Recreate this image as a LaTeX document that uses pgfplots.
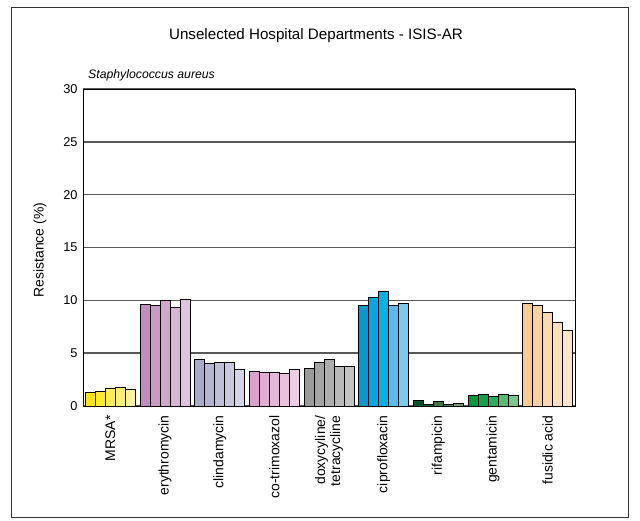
\documentclass[border=0pt]{standalone}
\usepackage{pgfplots}
\pgfplotsset{compat=1.18}
\usepackage{fontspec}
\setmainfont{Liberation Sans}
% colours
\definecolor{a1}{HTML}{FFE500}\definecolor{a2}{HTML}{FFE838}\definecolor{a3}{HTML}{FFEB5C}\definecolor{a4}{HTML}{FFEE7E}\definecolor{a5}{HTML}{FFF29E}
\definecolor{b1}{HTML}{C38CBE}\definecolor{b2}{HTML}{CA9AC5}\definecolor{b3}{HTML}{D0A8CC}\definecolor{b4}{HTML}{D7B6D4}\definecolor{b5}{HTML}{DEC4DC}
\definecolor{c1}{HTML}{AAAACA}\definecolor{c2}{HTML}{B5B5D1}\definecolor{c3}{HTML}{BFBFD7}\definecolor{c4}{HTML}{C9C9DE}\definecolor{c5}{HTML}{D4D4E5}
\definecolor{d1}{HTML}{DBA0CB}\definecolor{d2}{HTML}{E0ACD2}\definecolor{d3}{HTML}{E4B8D8}\definecolor{d4}{HTML}{E8C3DE}\definecolor{d5}{HTML}{EDCFE5}
\definecolor{e1}{HTML}{9B9B9B}\definecolor{e2}{HTML}{A5A5A5}\definecolor{e3}{HTML}{AFAFAF}\definecolor{e4}{HTML}{B9B9B9}\definecolor{e5}{HTML}{C3C3C3}
\definecolor{f1}{HTML}{009AD8}\definecolor{f2}{HTML}{00A8E0}\definecolor{f3}{HTML}{00B3E6}\definecolor{f4}{HTML}{56BCE9}\definecolor{f5}{HTML}{78CBEF}
\definecolor{g1}{HTML}{00512A}\definecolor{g2}{HTML}{1F6338}\definecolor{g3}{HTML}{3E7548}\definecolor{g4}{HTML}{5C865C}\definecolor{g5}{HTML}{7A9A72}
\definecolor{h1}{HTML}{009A3E}\definecolor{h2}{HTML}{0FA34A}\definecolor{h3}{HTML}{2DAC5A}\definecolor{h4}{HTML}{59B873}\definecolor{h5}{HTML}{7CC58B}
\definecolor{i1}{HTML}{FDCB8E}\definecolor{i2}{HTML}{FDD29D}\definecolor{i3}{HTML}{FDD8AD}\definecolor{i4}{HTML}{FEDEBC}\definecolor{i5}{HTML}{FEE4CA}
% one bar: colour, shift, x, y
\newcommand{\bb}[4]{\addplot[ybar, bar width=0.183, bar shift=#2, fill=#1, draw=black, line width=0.6bp, forget plot] coordinates {(#3,#4)};}
\begin{document}
\begin{tikzpicture}[x=1bp,y=1bp]
\useasboundingbox (0,0) rectangle (640,521);
\draw[line width=0.8bp, black!80] (11,4) rectangle (628,514);
\node[font=\fontsize{15.2}{18}\selectfont] at (316,485) {Unselected Hospital Departments - ISIS-AR};
\node[anchor=west, font=\fontsize{12.3}{14}\selectfont\itshape, inner sep=0pt] at (88,446) {Staphylococcus aureus};
\node[rotate=90, font=\fontsize{14}{16}\selectfont] at (40,271) {Resistance (\%)};
\begin{axis}[
  at={(83bp,115bp)}, anchor=south west,
  scale only axis, width=492bp, height=317bp,
  xmin=-0.5, xmax=8.5, ymin=0, ymax=30,
  ytick={0,5,...,30},
  xtick={0,1,...,8},
  xticklabels={MRSA*, erythromycin, clindamycin, co-trimoxazol, {doxycyline/\\tetracycline}, ciprofloxacin, rifampicin, gentamicin, fusidic acid},
  xticklabel style={yshift=-6bp, rotate=90, anchor=east, align=right, font=\fontsize{14}{15}\selectfont},
  yticklabel style={font=\fontsize{12.8}{14}\selectfont, xshift=-2bp},
  /pgf/number format/assume math mode=true,
  major tick length=0pt,
  ymajorgrids, grid style={line width=1.5bp, black!65},
  axis line style={line width=0.9bp, black},
]
\bb{a1}{-0.366}{0}{1.3}\bb{a2}{-0.183}{0}{1.4}\bb{a3}{0}{0}{1.7}\bb{a4}{0.183}{0}{1.8}\bb{a5}{0.366}{0}{1.6}
\bb{b1}{-0.366}{1}{9.6}\bb{b2}{-0.183}{1}{9.5}\bb{b3}{0}{1}{10.0}\bb{b4}{0.183}{1}{9.3}\bb{b5}{0.366}{1}{10.1}
\bb{c1}{-0.366}{2}{4.4}\bb{c2}{-0.183}{2}{4.0}\bb{c3}{0}{2}{4.1}\bb{c4}{0.183}{2}{4.1}\bb{c5}{0.366}{2}{3.5}
\bb{d1}{-0.366}{3}{3.3}\bb{d2}{-0.183}{3}{3.2}\bb{d3}{0}{3}{3.2}\bb{d4}{0.183}{3}{3.1}\bb{d5}{0.366}{3}{3.5}
\bb{e1}{-0.366}{4}{3.6}\bb{e2}{-0.183}{4}{4.1}\bb{e3}{0}{4}{4.4}\bb{e4}{0.183}{4}{3.8}\bb{e5}{0.366}{4}{3.8}
\bb{f1}{-0.366}{5}{9.5}\bb{f2}{-0.183}{5}{10.3}\bb{f3}{0}{5}{10.9}\bb{f4}{0.183}{5}{9.5}\bb{f5}{0.366}{5}{9.7}
\bb{g1}{-0.366}{6}{0.5}\bb{g2}{-0.183}{6}{0.2}\bb{g3}{0}{6}{0.4}\bb{g4}{0.183}{6}{0.2}\bb{g5}{0.366}{6}{0.3}
\bb{h1}{-0.366}{7}{1.0}\bb{h2}{-0.183}{7}{1.1}\bb{h3}{0}{7}{0.9}\bb{h4}{0.183}{7}{1.1}\bb{h5}{0.366}{7}{1.0}
\bb{i1}{-0.366}{8}{9.7}\bb{i2}{-0.183}{8}{9.5}\bb{i3}{0}{8}{8.9}\bb{i4}{0.183}{8}{7.9}\bb{i5}{0.366}{8}{7.2}
\end{axis}
\end{tikzpicture}
\end{document}
